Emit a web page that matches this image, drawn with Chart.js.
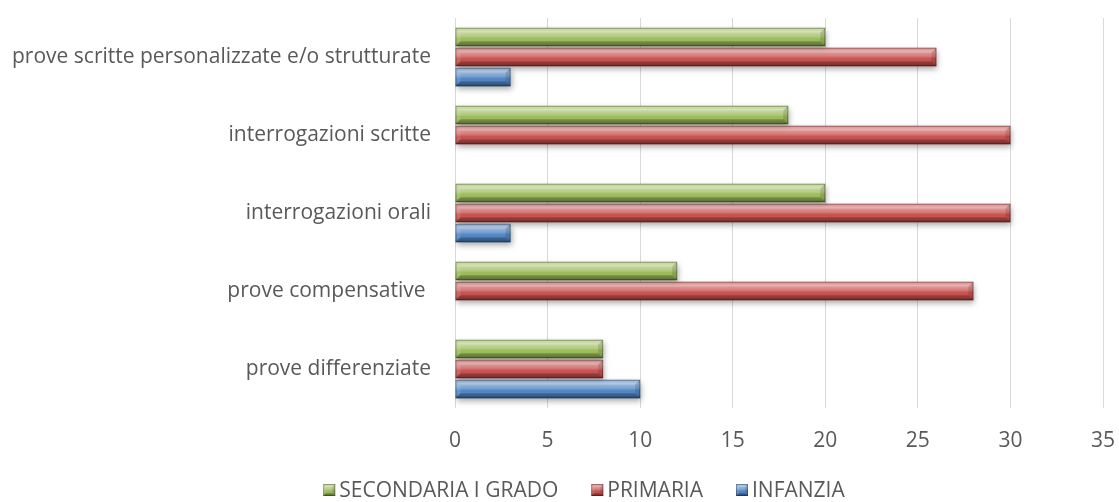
<!DOCTYPE html>
<html><head><meta charset="utf-8">
<script src="https://cdn.jsdelivr.net/npm/chart.js@4/dist/chart.umd.min.js"></script>
<style>html,body{margin:0;padding:0;background:#fff}#wrap{width:1119px;height:502px;position:relative}</style>
</head><body><div id="wrap"><canvas id="c"></canvas></div>
<script>
const categories = ["prove scritte personalizzate e/o strutturate","interrogazioni scritte","interrogazioni orali","prove compensative ","prove differenziate"];
const seriesNames = ["SECONDARIA I GRADO","PRIMARIA","INFANZIA"];
const secondaria = [20,18,20,12,8];
const primaria = [26,30,30,28,8];
const infanzia = [3,0,3,0,10];
const xTicks = [0,5,10,15,20,25,30,35];
const colors = ['#9bbb59','#c8504d','#4f85c4'];
const FONT = '"Open Sans", sans-serif';
const FS = 21;

function bevelRect(ctx,x0,y0,w,h,b){
  const x1=x0+w,y1=y0+h;
  let g = ctx.createLinearGradient(0,y0,0,y1);
  g.addColorStop(0,'rgba(255,255,255,0.2)');
  g.addColorStop(0.2,'rgba(255,255,255,0.45)');
  g.addColorStop(0.45,'rgba(255,255,255,0.25)');
  g.addColorStop(0.6,'rgba(255,255,255,0.0)');
  g.addColorStop(0.85,'rgba(0,0,0,0.1)');
  g.addColorStop(1,'rgba(0,0,0,0.3)');
  ctx.fillStyle=g; ctx.fillRect(x0,y0,w,h);
  ctx.fillStyle='rgba(255,255,255,0.18)';
  ctx.beginPath();ctx.moveTo(x0,y0);ctx.lineTo(x1,y0);ctx.lineTo(x1-b,y0+b);ctx.lineTo(x0+b,y0+b);ctx.closePath();ctx.fill();
  ctx.fillStyle='rgba(0,0,0,0.22)';
  ctx.beginPath();ctx.moveTo(x0,y1);ctx.lineTo(x1,y1);ctx.lineTo(x1-b,y1-b);ctx.lineTo(x0+b,y1-b);ctx.closePath();ctx.fill();
  ctx.fillStyle='rgba(0,0,0,0.12)';
  ctx.beginPath();ctx.moveTo(x1,y0);ctx.lineTo(x1,y1);ctx.lineTo(x1-b,y1-b);ctx.lineTo(x1-b,y0+b);ctx.closePath();ctx.fill();
  ctx.fillStyle='rgba(255,255,255,0.1)';
  ctx.beginPath();ctx.moveTo(x0,y0);ctx.lineTo(x0,y1);ctx.lineTo(x0+b,y1-b);ctx.lineTo(x0+b,y0+b);ctx.closePath();ctx.fill();
  ctx.strokeStyle='rgba(0,0,0,0.28)';ctx.lineWidth=1;ctx.strokeRect(x0+0.5,y0+0.5,w-1,h-1);
}

const bevel = {
  id:'bevel',
  afterDatasetsDraw(chart){
    const ctx = chart.ctx;
    chart.data.datasets.forEach((ds,di)=>{
      chart.getDatasetMeta(di).data.forEach(el=>{
        const x0 = Math.min(el.base, el.x), x1 = Math.max(el.base, el.x);
        const w = x1-x0; if (w<1) return;
        const h = el.height;
        ctx.save(); bevelRect(ctx,x0,el.y-h/2,w,h,Math.min(5,w/2)); ctx.restore();
      });
    });
  }
};
const shadow = {
  id:'shadow',
  beforeDatasetsDraw(chart){ const c=chart.ctx; c.save(); c.shadowColor='rgba(0,0,0,0.35)'; c.shadowBlur=6; c.shadowOffsetX=1; c.shadowOffsetY=3; },
  afterDatasetsDraw(chart){ chart.ctx.restore(); }
};
const customLegend = {
  id:'customLegend',
  afterDraw(chart){
    const ctx=chart.ctx; ctx.save();
    ctx.font = FS+'px '+FONT; ctx.textBaseline='middle'; ctx.textAlign='left';
    const box=12, gap=4, itemGap=33;
    const widths = chart.data.datasets.map(d=>box+gap+ctx.measureText(d.label).width);
    const total = widths.reduce((a,b)=>a+b,0)+itemGap*(widths.length-1);
    let x = 584 - total/2; const yc = 490;
    chart.data.datasets.forEach((d,i)=>{
      ctx.fillStyle=d.backgroundColor; ctx.fillRect(x,yc-6,box,box);
      bevelRect(ctx,x,yc-6,box,box,3);
      ctx.fillStyle='#595959'; ctx.fillText(d.label,x+box+gap,yc+1);
      x += widths[i]+itemGap;
    });
    ctx.restore();
  }
};

new Chart(document.getElementById('c'),{
  type:'bar',
  data:{labels:categories,datasets:[
    {label:seriesNames[0],data:secondaria,backgroundColor:colors[0]},
    {label:seriesNames[1],data:primaria,backgroundColor:colors[1]},
    {label:seriesNames[2],data:infanzia,backgroundColor:colors[2]}
  ]},
  options:{
    indexAxis:'y',responsive:true,maintainAspectRatio:false,animation:false,
    datasets:{bar:{categoryPercentage:0.77,barPercentage:0.92}},
    layout:{padding:{top:18,right:16,left:0,bottom:40}},
    scales:{
      x:{min:0,max:35,afterBuildTicks(s){s.ticks=xTicks.map(v=>({value:v}));},
        grid:{color:'#d9d9d9',drawTicks:false},border:{display:false},
        ticks:{color:'#595959',font:{family:FONT,size:FS},padding:20},
        afterFit(s){s.height=54;s.paddingLeft=0;s.paddingRight=0;s.paddingTop=0;s.paddingBottom=0;}},
      y:{grid:{display:false},border:{display:false},
        ticks:{color:'#595959',font:{family:FONT,size:FS},padding:16},
        afterFit(s){s.width=455;s.paddingLeft=0;s.paddingRight=0;s.paddingTop=0;s.paddingBottom=0;}}
    },
    plugins:{legend:{display:false},tooltip:{enabled:false}}
  },
  plugins:[shadow,bevel,customLegend]
});
</script></body></html>
